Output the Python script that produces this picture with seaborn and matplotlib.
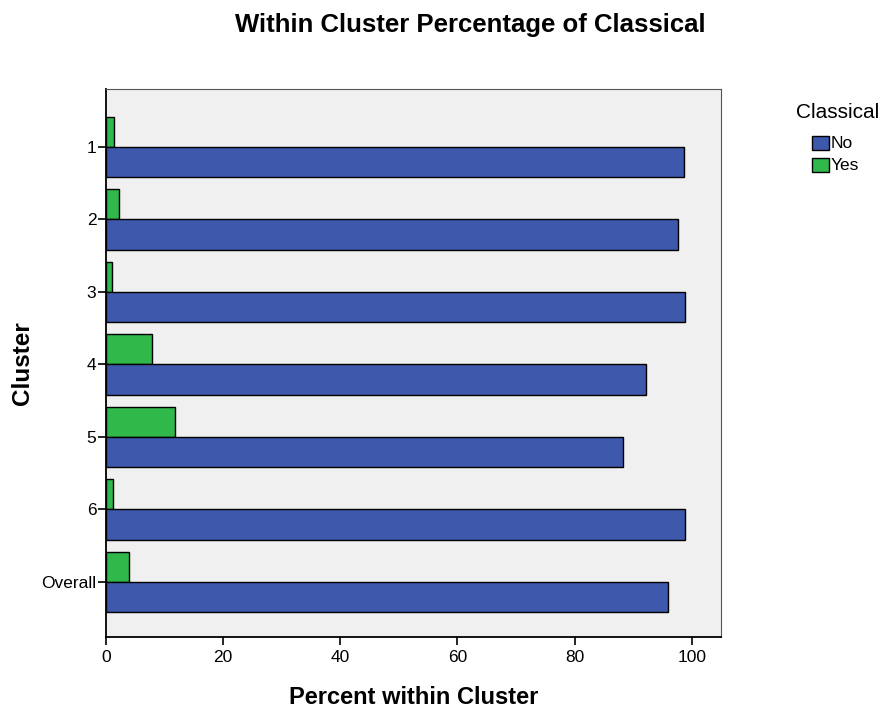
import numpy as np
import pandas as pd
import matplotlib
matplotlib.use("Agg")
import matplotlib.pyplot as plt
from matplotlib.patches import Rectangle
import seaborn as sns

# values
clusters = ["1", "2", "3", "4", "5", "6", "Overall"]
pct_no = [98.6, 97.7, 98.9, 92.2, 88.3, 98.8, 96.0]
pct_yes = [1.4, 2.3, 1.1, 7.8, 11.7, 1.2, 4.0]
x_ticks = [0, 20, 40, 60, 80, 100]
legend_labels = ["No", "Yes"]

blue = "#3E58AC"
green = "#30B84A"

df = pd.DataFrame({
    "Cluster": clusters * 2,
    "Classical": ["Yes"] * len(clusters) + ["No"] * len(clusters),
    "Percent": pct_yes + pct_no,
})

sns.set_style("white")
plt.rcParams["font.family"] = ["Liberation Sans", "DejaVu Sans"]
plt.rcParams["text.color"] = "black"
plt.rcParams["xtick.color"] = "black"
plt.rcParams["ytick.color"] = "black"

W, H = 881, 709
fig = plt.figure(figsize=(W / 100, H / 100), dpi=100)
ax = fig.add_axes([106 / W, 1 - 637 / H, (721 - 106) / W, (637 - 89) / H])
ax.set_facecolor("#F0F0F0")

sns.barplot(data=df, y="Cluster", x="Percent", hue="Classical",
            order=clusters, hue_order=["Yes", "No"],
            palette={"Yes": green, "No": blue}, width=0.83, gap=0,
            edgecolor="black", linewidth=1, saturation=1, ax=ax, legend=False)

ax.set_xlim(0, 105)
ax.set_ylim(len(clusters) - 1 + 0.76, -0.8)
ax.set_xticks(x_ticks)
ax.set_xticklabels([str(t) for t in x_ticks], fontsize=12.5)
ax.set_yticklabels(clusters, fontsize=12.5)
ax.tick_params(axis="both", length=6, width=1.2, color="black", direction="out",
               bottom=True, left=True, labelcolor="black")
ax.tick_params(axis="y", pad=1)
ax.tick_params(axis="x", pad=3)

for side in ["top", "right"]:
    ax.spines[side].set_linewidth(0.8)
    ax.spines[side].set_color("#555555")
for side in ["left", "bottom"]:
    ax.spines[side].set_linewidth(1.3)
    ax.spines[side].set_color("black")

ax.set_xlabel("")
ax.set_ylabel("")
fig.text(414 / W, 1 - 698 / H, "Percent within Cluster", ha="center", va="center",
         fontsize=17, fontweight="bold")
fig.text(22 / W, 1 - 363 / H, "Cluster", ha="center", va="center", rotation=90,
         fontsize=17.5, fontweight="bold")
fig.text(470 / W, 1 - 25 / H, "Within Cluster Percentage of Classical",
         ha="center", va="center", fontsize=18.5, fontweight="bold")

# legend drawn in figure pixels like the SPSS one
fig.text(796 / W, 1 - 112 / H, "Classical", ha="left", va="center", fontsize=15)
for i, (lab, col) in enumerate(zip(legend_labels, [blue, green])):
    top = 136 + i * 22
    fig.add_artist(Rectangle((812 / W, 1 - (top + 14) / H), 17 / W, 14 / H,
                             transform=fig.transFigure, facecolor=col,
                             edgecolor="black", linewidth=1))
    fig.text(831 / W, 1 - (top + 8) / H, lab, ha="left", va="center", fontsize=12.5)

fig.savefig("out.png", dpi=100)
